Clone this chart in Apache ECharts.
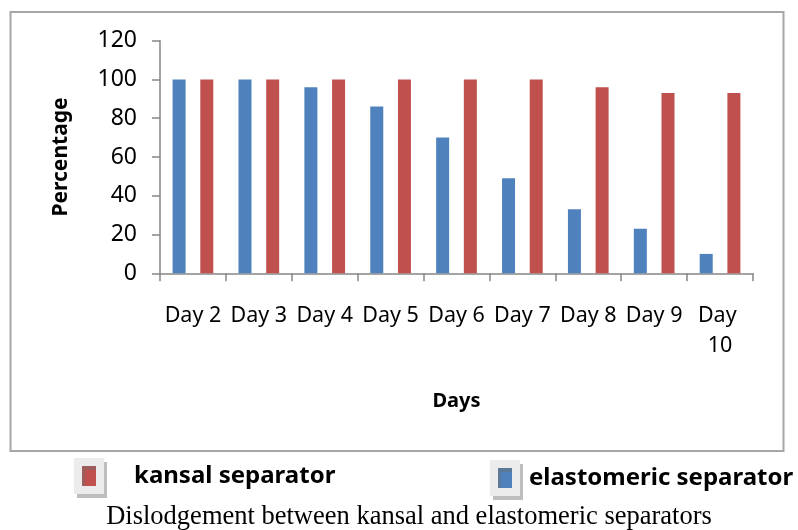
<!DOCTYPE html>
<html>
<head>
<meta charset="utf-8">
<script src="https://cdn.jsdelivr.net/npm/echarts@6/dist/echarts.min.js"></script>
<style>
	html, body { margin: 0; padding: 0; background: #fff; }
	#chart { width: 798px; height: 530px; }
</style>
</head>
<body>
<div id="chart"></div>
<script>
	// data
	let days = ['Day 2', 'Day 3', 'Day 4', 'Day 5', 'Day 6', 'Day 7', 'Day 8', 'Day 9', 'Day 10'];
	let elastomeric = [100, 100, 96, 86, 70, 49, 33, 23, 10];
	let kansal = [100, 100, 100, 100, 100, 100, 96, 93, 93];
	let yTicks = [0, 120, 20]; // min, max, interval

	let blue = '#4f81bd';
	let red = '#c0504d';
	let axisColor = '#868686';
	let font = 'Noto Sans';

	let legendItem = {
		icon: 'rect',
		itemWidth: 22,
		itemHeight: 28,
		itemStyle: {
			borderColor: '#ececec',
			borderWidth: 8,
			shadowColor: 'rgba(110,110,110,0.45)',
			shadowOffsetX: 3,
			shadowOffsetY: 4
		}
	};

	let option = {
		backgroundColor: '#fff',
		animation: false,
		title: {
			text: 'Dislodgement between kansal and elastomeric separators',
			left: 404,
			textAlign: 'center',
			top: 499,
			textStyle: {
				fontFamily: 'Liberation Serif',
				fontWeight: 'normal',
				fontSize: 26.5,
				color: '#000'
			}
		},
		graphic: [{
			type: 'rect',
			shape: { x: 10.5, y: 12, width: 773, height: 439 },
			style: { fill: 'none', stroke: '#a6a6a6', lineWidth: 2 },
			silent: true
		}],
		legend: [
			Object.assign({
				data: ['kansal separator'],
				left: 69,
				top: 453,
				textStyle: { fontFamily: font, fontWeight: 'bold', fontSize: 24, color: '#000', padding: [0, 0, 0, 29] }
			}, legendItem),
			Object.assign({
				data: ['elastomeric separator'],
				left: 485,
				top: 455,
				textStyle: { fontFamily: font, fontWeight: 'bold', fontSize: 24, color: '#000', padding: [0, 0, 0, 8] }
			}, legendItem)
		],
		grid: {
			left: 160,
			right: 45,
			top: 40.7,
			bottom: 256.7,
			containLabel: false
		},
		xAxis: {
			type: 'category',
			data: days,
			boundaryGap: true,
			name: 'Days',
			nameLocation: 'middle',
			nameGap: 118,
			nameTextStyle: { fontFamily: font, fontWeight: 'bold', fontSize: 20, color: '#000' },
			axisLine: { lineStyle: { color: axisColor, width: 1.5 } },
			axisTick: { show: true, length: 8, lineStyle: { color: axisColor, width: 1.5 } },
			axisLabel: {
				interval: 0,
				margin: 28,
				width: 66,
				overflow: 'break',
				lineHeight: 30,
				fontFamily: font,
				fontSize: 21.5,
				color: '#000'
			},
			splitLine: { show: false }
		},
		yAxis: {
			type: 'value',
			min: yTicks[0],
			max: yTicks[1],
			interval: yTicks[2],
			name: 'Percentage',
			nameLocation: 'middle',
			nameGap: 88,
			nameTextStyle: { fontFamily: font, fontWeight: 'bold', fontSize: 21, color: '#000' },
			axisLine: { show: true, lineStyle: { color: axisColor, width: 1.5 } },
			axisTick: { show: true, length: 8, lineStyle: { color: axisColor, width: 1.5 } },
			axisLabel: {
				margin: 23,
				fontFamily: font,
				fontSize: 23,
				color: '#000'
			},
			splitLine: { show: false }
		},
		series: [{
			name: 'elastomeric separator',
			type: 'bar',
			barWidth: 13,
			barGap: '113%',
			itemStyle: { color: blue },
			data: elastomeric
		}, {
			name: 'kansal separator',
			type: 'bar',
			barWidth: 13,
			itemStyle: { color: red },
			data: kansal
		}]
	};

	var myChart = echarts.init(document.getElementById('chart'));
	myChart.setOption(option);
</script>
</body>
</html>
